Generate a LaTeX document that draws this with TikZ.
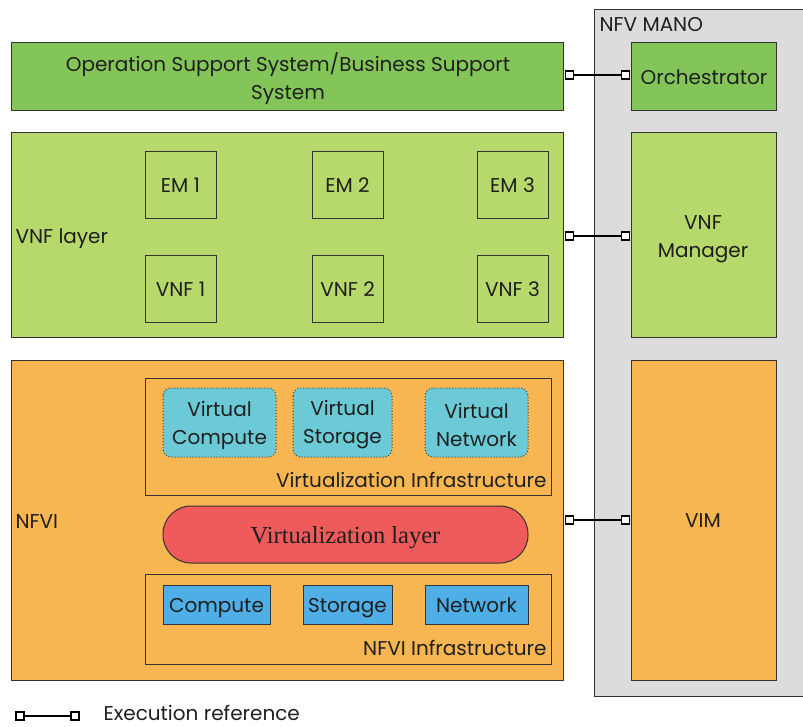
\documentclass[tikz,border=0pt]{standalone}
\usepackage{fontspec}
\setmainfont{Poppins}
\newfontfamily\serifvl{Liberation Serif}
\definecolor{manogray}{HTML}{DCDCDC}
\definecolor{dkgreen}{HTML}{84C55A}
\definecolor{ltgreen}{HTML}{B7D86B}
\definecolor{nfviorange}{HTML}{F8B652}
\definecolor{vcyan}{HTML}{6CCAD6}
\definecolor{vred}{HTML}{EF5A5A}
\definecolor{hwblue}{HTML}{4EAEE5}
\begin{document}
\begin{tikzpicture}[x=1pt,y=-1pt,
  every node/.style={font=\fontsize{20}{28}\selectfont, text=black!88, text height=14pt, text depth=0pt},
  ml/.style={align=center, text height=, text depth=},
  blk/.style={draw=black!80, line width=1pt},
  port/.style={draw=black, line width=1.8pt, fill=white, minimum size=8pt, inner sep=0pt, rectangle, text height=0pt, text depth=0pt},
  link/.style={draw=black, line width=1.8pt},
  em/.style={blk, fill=ltgreen},
  vres/.style={draw=black!75, dotted, line width=1pt, rounded corners=8pt, fill=vcyan},
  hres/.style={blk, fill=hwblue}]
\useasboundingbox (0,0) rectangle (803,727);
% MANO
\path[blk, fill=manogray] (594,10) rectangle (806,696);
\node[anchor=west] (manolbl) at (596,25) {NFV MANO};
% OSS/BSS
\path[blk, fill=dkgreen] (11,43) rectangle (563,111);
\node[ml] (oss) at (288,79) {Operation Support System/Business Support\\System};
\path[blk, fill=dkgreen] (631,43) rectangle (776,111);
\node (orch) at (704,78) {Orchestrator};
% VNF layer
\path[blk, fill=ltgreen] (11,133) rectangle (563,337);
\node[anchor=west] (vnflbl) at (12,237) {VNF layer};
\foreach \n/\x in {1/145,2/312,3/477}{
  \path[em] (\x,152) rectangle ++(71,67);
  \node (em\n) at (\x+35.5,185.5) {EM \n};
  \path[em] (\x,256) rectangle ++(71,66);
  \node (vnf\n) at (\x+35.5,289.5) {VNF \n};
}
\path[blk, fill=ltgreen] (631,133) rectangle (776,337);
\node[ml] (vnfm) at (703,239) {VNF\\Manager};
% NFVI
\path[blk, fill=nfviorange] (11,360) rectangle (563,680);
\node[anchor=west] (nfvilbl) at (12,521) {NFVI};
\path[blk] (145,378) rectangle (551,495);
\node[anchor=east] (vilbl) at (550,480) {Virtualization Infrastructure};
\path[vres] (163,388) rectangle (276,457);
\node[ml] (vc) at (219.5,425) {Virtual\\Compute};
\path[vres] (293,388) rectangle (392,457);
\node[ml] (vs) at (342.5,425) {Virtual\\Storage};
\path[vres] (425,388) rectangle (528,457);
\node[ml] (vn) at (476.5,425) {Virtual\\Network};
\path[blk, fill=vred, rounded corners=28pt] (163,506) rectangle (528,563);
\node[font=\serifvl\fontsize{24.5}{28}\selectfont, text height=16pt] (vl) at (345.5,535) {Virtualization layer};
\path[blk] (145,574) rectangle (551,664);
\node[anchor=east] (nilbl) at (550,648) {NFVI Infrastructure};
\path[hres] (163,585) rectangle (270,624);
\node (cmp) at (216.5,605) {Compute};
\path[hres] (303,585) rectangle (392,624);
\node (sto) at (347.5,605) {Storage};
\path[hres] (425,585) rectangle (528,624);
\node (net) at (476.5,605) {Network};
\path[blk, fill=nfviorange] (631,360) rectangle (776,680);
\node (vim) at (703,520) {VIM};
% execution references
\foreach \y/\nm in {75/a,236/b,520/c}{
  \node[port] (p\nm1) at (569.5,\y) {};
  \node[port] (p\nm2) at (625.5,\y) {};
  \draw[link] (p\nm1) -- (p\nm2);
}
% legend
\node[port] (lg1) at (20,716) {};
\node[port] (lg2) at (75,716) {};
\draw[link] (lg1) -- (lg2);
\node[anchor=west] (lgt) at (100,713) {Execution reference};
\end{tikzpicture}
\end{document}
